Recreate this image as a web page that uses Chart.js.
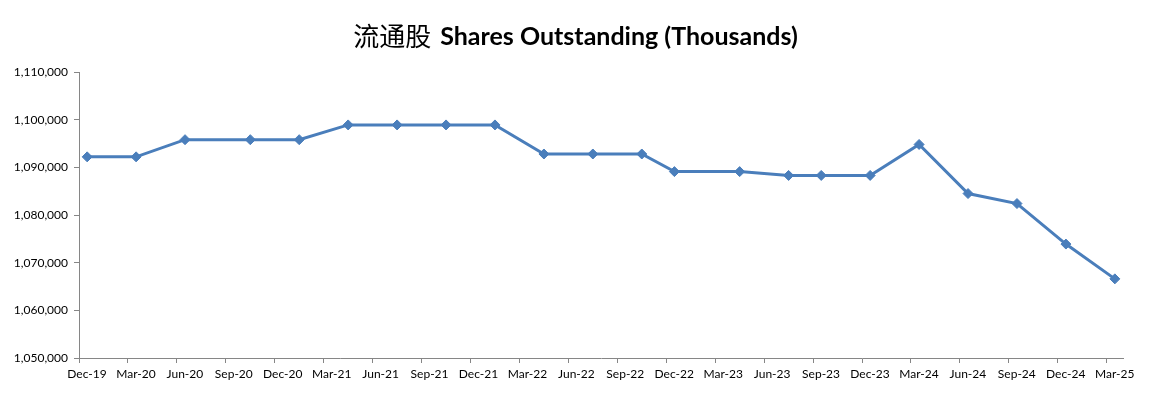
<!DOCTYPE html>
<html>
<head>
<meta charset="utf-8">
<script src="https://cdn.jsdelivr.net/npm/chart.js@4/dist/chart.umd.min.js"></script>
<style>
  html, body { margin: 0; padding: 0; background: #ffffff; }
  #wrap { width: 1159px; height: 393px; position: relative; }
</style>
</head>
<body>
<div id="wrap"><canvas id="c" width="1159" height="393"></canvas></div>
<script>
// ---- data ----
const titleCJK = '流通股';
const titleLatin = 'Shares Outstanding (Thousands)';

// month in which each point sits on the date axis
const pointMonths = ['2019-12','2020-03','2020-06','2020-10','2021-01','2021-04','2021-07','2021-10',
  '2022-01','2022-04','2022-07','2022-10','2022-12','2023-04','2023-07','2023-09','2023-12',
  '2024-03','2024-06','2024-09','2024-12','2025-03'];

const sharesOutstanding = [1092200,1092200,1095800,1095800,1095800,1098900,1098900,1098900,
  1098900,1092800,1092800,1092800,1089100,1089100,1088300,1088300,1088300,
  1094800,1084500,1082400,1073900,1066600];

const tickLabels = ['Dec-19','Mar-20','Jun-20','Sep-20','Dec-20','Mar-21','Jun-21','Sep-21',
  'Dec-21','Mar-22','Jun-22','Sep-22','Dec-22','Mar-23','Jun-23','Sep-23','Dec-23',
  'Mar-24','Jun-24','Sep-24','Dec-24','Mar-25'];

const yMin = 1050000, yMax = 1110000, yStep = 10000;
const axisStartYear = 2019, axisStartMonth = 12; // Dec-19
const monthsPerTick = 3;

// ---- helpers ----
function monthIndex(s) {
  const [y, m] = s.split('-').map(Number);
  return (y - axisStartYear) * 12 + (m - axisStartMonth);
}
const axisMonths = tickLabels.length * monthsPerTick - 2; // Dec-19 .. Mar-25 inclusive
const points = pointMonths.map((d, i) => ({ x: monthIndex(d) + 0.5, y: sharesOutstanding[i] }));

const AXIS = '#868686';
const LINE = '#4A7EBB';
const FONT = 'Lato, "Liberation Sans", sans-serif';

const titlePlugin = {
  id: 'mixedTitle',
  afterDraw(chart) {
    const ctx = chart.ctx;
    ctx.save();
    const cjkFont = 'normal 26px "Noto Sans CJK SC"';
    const latFont = 'bold 25px Lato, "Liberation Sans", sans-serif';
    ctx.font = cjkFont;
    const w1 = ctx.measureText(titleCJK).width;
    const gap = 9;
    ctx.font = latFont;
    const w2 = ctx.measureText(titleLatin).width;
    const cx = 575.5;
    let x = cx - (w1 + gap + w2) / 2;
    const baseY = 45;
    ctx.fillStyle = '#000';
    ctx.textBaseline = 'alphabetic';
    ctx.textAlign = 'left';
    ctx.font = cjkFont;
    ctx.fillText(titleCJK, x, baseY + 1);
    x += w1 + gap;
    ctx.font = latFont;
    ctx.fillText(titleLatin, x, baseY);
    ctx.restore();
  }
};

new Chart(document.getElementById('c'), {
  type: 'line',
  data: {
    datasets: [{
      data: points,
      borderColor: LINE,
      backgroundColor: LINE,
      borderWidth: 3,
      pointStyle: 'rectRot',
      pointRadius: 5,
      pointHoverRadius: 5,
      pointBackgroundColor: LINE,
      pointBorderColor: LINE,
      pointBorderWidth: 1,
      tension: 0,
      fill: false
    }]
  },
  options: {
    responsive: false,
    animation: false,
    devicePixelRatio: 1,
    layout: { padding: { top: 72, right: 36, bottom: 0, left: 0 } },
    plugins: {
      legend: { display: false },
      title: { display: false },
      tooltip: { enabled: false }
    },
    scales: {
      x: {
        type: 'linear',
        min: 0,
        max: axisMonths,
        afterBuildTicks(scale) {
          scale.ticks = tickLabels.map((_, i) => ({ value: i * monthsPerTick }));
        },
        afterFit(scale) { scale.height = 35; },
        border: { display: true, color: AXIS, width: 1 },
        grid: { display: true, drawOnChartArea: false, drawTicks: true, tickLength: 5, color: AXIS },
        ticks: {
          autoSkip: false,
          maxRotation: 0,
          minRotation: 0,
          padding: 4,
          labelOffset: 8,
          color: '#000',
          font: { family: FONT, size: 12 },
          callback(v) { return tickLabels[Math.round(v / monthsPerTick)]; }
        }
      },
      y: {
        type: 'linear',
        min: yMin,
        max: yMax,
        afterFit(scale) { scale.width = 79; },
        border: { display: true, color: AXIS, width: 1 },
        grid: { display: true, drawOnChartArea: false, drawTicks: true, tickLength: 5, color: AXIS },
        ticks: {
          stepSize: yStep,
          padding: 6,
          color: '#000',
          font: { family: FONT, size: 12 },
          callback(v) { return v.toLocaleString('en-US'); }
        }
      }
    }
  },
  plugins: [titlePlugin]
});
</script>
</body>
</html>
